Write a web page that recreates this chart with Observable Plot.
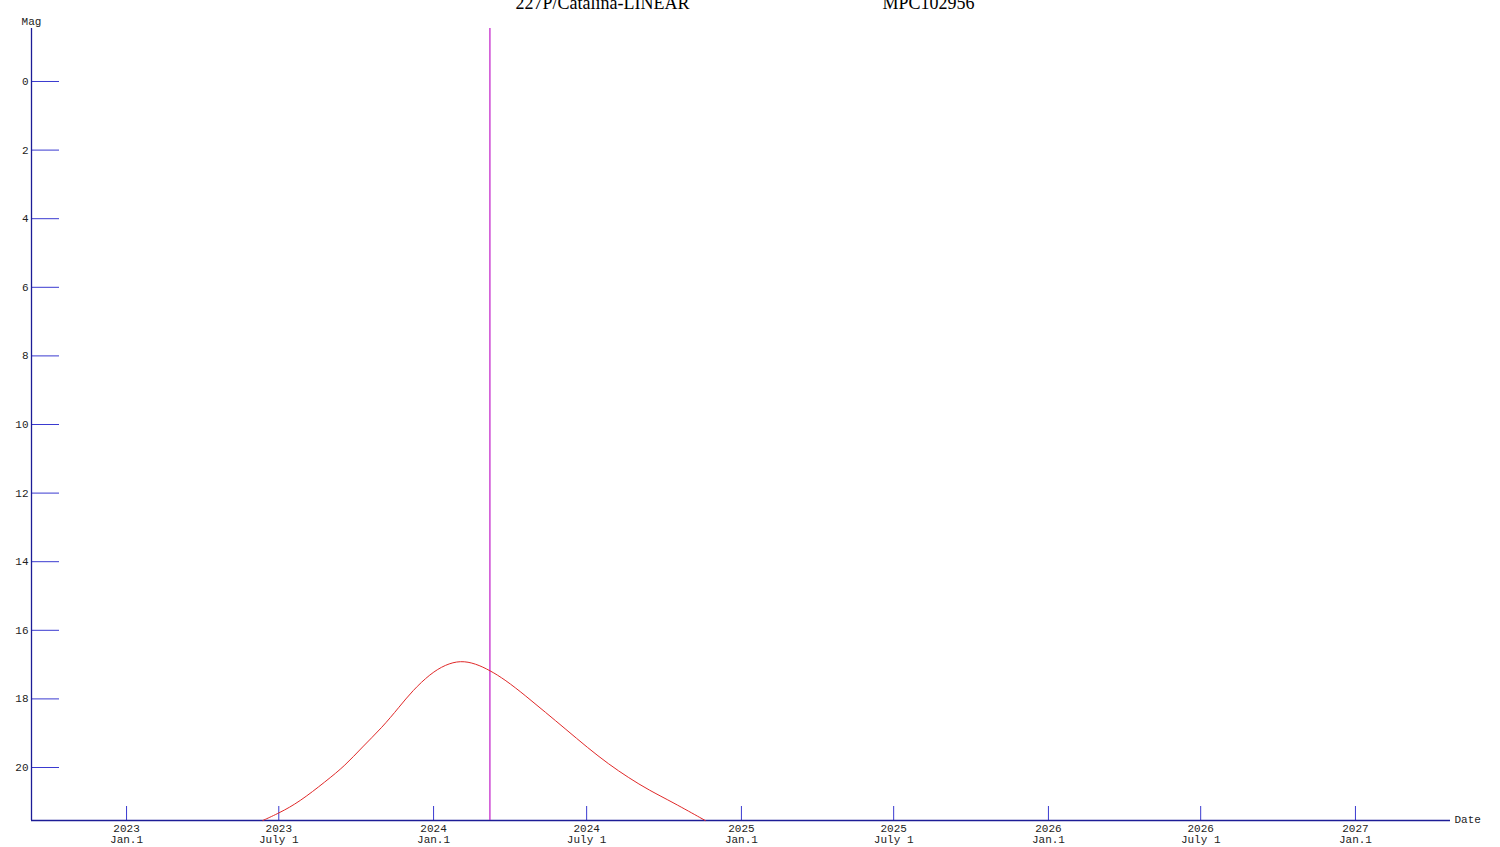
<!DOCTYPE html>
<html>
<head>
<meta charset="utf-8">
<script src="https://cdn.jsdelivr.net/npm/d3@7"></script>
<script src="https://cdn.jsdelivr.net/npm/@observablehq/plot@0.6"></script>
<style>
  html, body { margin: 0; padding: 0; background: #fff; overflow: hidden; }
</style>
</head>
<body>
<div id="chart"></div>
<script>
// ---- data ----
const titleName = "227P/Catalina-LINEAR";
const titleRef = "MPC102956";

const xDomain = ["2022-09-10", "2027-04-24"];
const yDomain = [-1.545, 21.545];

const xTickDates = ["2023-01-01","2023-07-01","2024-01-01","2024-07-01","2025-01-01","2025-07-01","2026-01-01","2026-07-01","2027-01-01"];
const xTickLabels = ["2023\nJan.1","2023\nJuly 1","2024\nJan.1","2024\nJuly 1","2025\nJan.1","2025\nJuly 1","2026\nJan.1","2026\nJuly 1","2027\nJan.1"];
const yTicks = [0, 2, 4, 6, 8, 10, 12, 14, 16, 18, 20];

const curveDates = ["2023-06-12","2023-07-02","2023-07-25","2023-08-26","2023-09-18","2023-10-08","2023-11-01","2023-11-21","2023-12-07","2023-12-28",
                    "2024-01-15","2024-02-02","2024-02-20","2024-03-08","2024-03-26","2024-04-19","2024-05-13","2024-06-06","2024-07-02","2024-07-27",
                    "2024-08-20","2024-09-13","2024-10-11","2024-11-19"];
const curveMags  = [21.545, 21.32, 21.01, 20.40, 19.94, 19.41, 18.83, 18.24, 17.76, 17.27,
                    17.00, 16.88, 16.97, 17.17, 17.44, 17.90, 18.39, 18.88, 19.42, 19.90,
                    20.30, 20.66, 21.01, 21.545];

const nowDate = "2024-03-08";

// ---- build ----
const parse = d3.utcParse("%Y-%m-%d");
const curve = curveDates.map((d, i) => ({date: parse(d), mag: curveMags[i]}));
const xTicks = xTickDates.map(parse);
const xd = xDomain.map(parse);

const axisColor = "#1c1c96";
const tickColor = "#3a3ad0";
const mono = "'Liberation Mono', 'DejaVu Sans Mono', monospace";
const serif = "'Liberation Serif', 'Times New Roman', serif";

const chart = Plot.plot({
  width: 1500,
  height: 847,
  marginLeft: 31,
  marginRight: 50,
  marginTop: 28,
  marginBottom: 27,
  style: {background: "#fff", overflow: "visible"},
  x: {type: "utc", domain: xd, axis: null},
  y: {domain: yDomain, reverse: true, axis: null},
  marks: [
    // y ticks (pointing inward)
    Plot.axisY({ticks: yTicks, tickSize: -28, tickFormat: () => "", label: null, stroke: tickColor, strokeWidth: 1, strokeOpacity: 1}),
    // y tick labels
    Plot.text(yTicks, {y: d => d, text: d => String(d), frameAnchor: "left", textAnchor: "end", dx: -3,
      fontFamily: mono, fontSize: 11, fill: "#222"}),
    // x ticks (pointing inward)
    Plot.axisX({ticks: xTicks, tickSize: -14, tickFormat: () => "", label: null, stroke: tickColor, strokeWidth: 1, strokeOpacity: 1}),
    // x tick labels
    Plot.text(xTicks, {x: d => d, text: (d, i) => xTickLabels[i], frameAnchor: "bottom", lineAnchor: "top", dy: 4,
      fontFamily: mono, fontSize: 11, lineHeight: 1, fill: "#222"}),
    // axis lines
    Plot.ruleX([xd[0]], {stroke: axisColor, strokeWidth: 1.3}),
    Plot.ruleY([yDomain[1]], {stroke: axisColor, strokeWidth: 1.3}),
    // current date line
    Plot.ruleX([parse(nowDate)], {stroke: "#c01ac8", strokeWidth: 1.2}),
    // magnitude curve
    Plot.line(curve, {x: "date", y: "mag", stroke: "#e02828", strokeWidth: 1, curve: "basis"}),
    // axis names
    Plot.text(["Mag"], {frameAnchor: "top-left", textAnchor: "middle", dy: -11, fontFamily: mono, fontSize: 11, fill: "#222"}),
    Plot.text(["Date"], {frameAnchor: "bottom-right", textAnchor: "start", dx: 4, dy: 2, fontFamily: mono, fontSize: 11, fill: "#222"}),
    // title (clipped at the top edge as in the original)
    Plot.text([titleName], {frameAnchor: "top", lineAnchor: "bottom", dx: -138.5, dy: -20,
      fontFamily: serif, fontSize: 18, fill: "#000"}),
    Plot.text([titleRef], {frameAnchor: "top", lineAnchor: "bottom", dx: 187.5, dy: -20,
      fontFamily: serif, fontSize: 18, fill: "#000"})
  ]
});
document.getElementById("chart").appendChild(chart);
</script>
</body>
</html>
